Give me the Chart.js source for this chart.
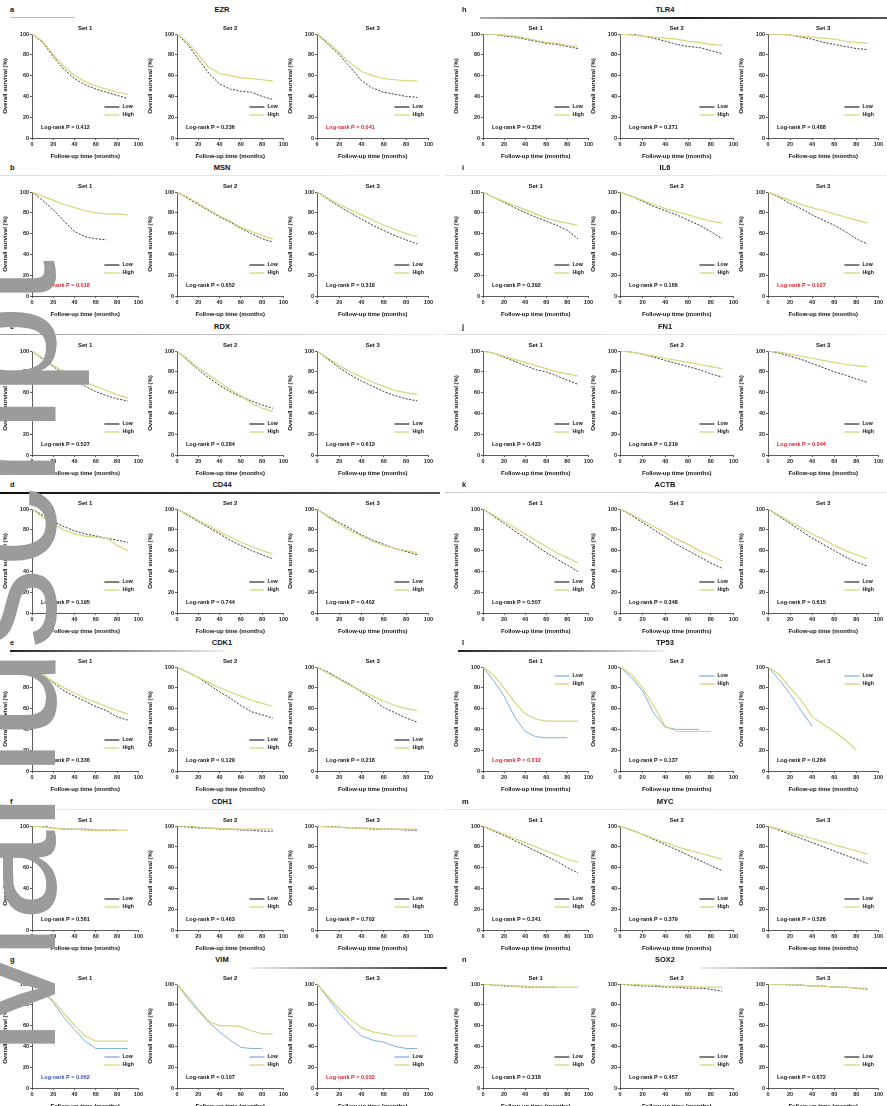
<!DOCTYPE html>
<html><head><meta charset="utf-8">
<script src="https://cdn.jsdelivr.net/npm/chart.js@4.4.0/dist/chart.umd.min.js"></script>
<style>
html,body{margin:0;padding:0;background:#fff;}
#fig{position:relative;width:887px;height:1106px;overflow:hidden;background:#fff;font-family:"Liberation Sans",Arial,sans-serif;}
#fig canvas{position:absolute;}
.lbl{position:absolute;font-weight:bold;font-size:7.5px;color:#111;line-height:1;}
.gene{position:absolute;font-weight:bold;font-size:7.5px;color:#111;line-height:1;transform:translateX(-50%);white-space:nowrap;}
.rule{position:absolute;}
#wm{position:absolute;left:-83px;top:1057px;transform-origin:0 0;transform:rotate(-90deg);font-family:"Liberation Sans",Arial,sans-serif;font-size:163px;color:#9b9b9b;line-height:1;white-space:nowrap;z-index:10;}
</style></head>
<body>
<div id="fig"></div>
<div id="wm"></div>
<script>
// ---------------- data ----------------
const months = [0,10,20,30,40,50,60,70,80,90];
const xTicks = [0,20,40,60,80,100];
const yTicks = [0,20,40,60,80,100];
const panelLetters = ['a','b','c','d','e','f','g','h','i','j','k','l','m','n'];
const geneNames = ['EZR','MSN','RDX','CD44','CDK1','CDH1','VIM','TLR4','IL6','FN1','ACTB','TP53','MYC','SOX2'];
const cohortNames = ['Set 1','Set 2','Set 3'];
const legendLabels = ['Low','High'];
const yTitle = 'Overall survival (%)';
const xTitle = 'Follow-up time (months)';
const pValues = [
 '0.412','0.236','0.041', '0.018','0.652','0.318', '0.527','0.284','0.613',
 '0.195','0.744','0.402', '0.336','0.129','0.218', '0.581','0.463','0.702',
 '0.062','0.107','0.032', '0.354','0.271','0.488', '0.392','0.166','0.027',
 '0.433','0.219','0.044', '0.507','0.348','0.615', '0.012','0.137','0.284',
 '0.241','0.379','0.526', '0.318','0.457','0.672'];
const pSignificant = [
 0,0,1, 1,0,0, 0,0,0, 0,0,0, 0,0,0, 0,0,0, 2,0,1,
 0,0,0, 0,0,1, 0,0,1, 0,0,0, 1,0,0, 0,0,0, 0,0,0];
const lowCurves = [
 [100,92,78,66,57,51,47,44,41,38],[100,90,76,62,52,47,45,44,40,37],[100,90,80,68,55,48,44,42,40,39],
 [100,92,83,72,62,57,55,54,null,null],[100,94,88,82,76,71,65,60,55,52],[100,93,86,80,74,68,63,58,54,50],
 [100,92,85,78,72,66,61,57,54,52],[100,91,82,74,67,61,56,52,48,45],[100,92,84,77,71,66,61,57,54,52],
 [100,94,88,83,79,76,74,72,70,68],[100,94,88,82,76,70,65,60,56,52],[100,93,87,81,75,70,66,62,59,56],
 [100,92,85,77,72,67,62,58,52,49],[100,95,90,83,76,70,63,57,54,51],[100,95,89,83,76,69,61,56,51,47],
 [100,100,98,97,97,97,96,96,96,null],[100,99,98,98,97,97,96,96,95,95],[100,100,99,98,98,97,97,97,96,96],
 [100,94,82,68,56,45,38,38,38,38],[100,86,74,63,54,46,39,38,38,null],[100,86,72,60,50,46,44,40,38,38],
 [100,100,98,97,95,93,91,90,88,86],[100,100,98,96,93,90,88,87,84,81],[100,100,99,97,95,92,90,88,86,85],
 [100,95,90,85,80,76,72,68,63,55],[100,96,91,86,82,78,73,68,62,55],[100,95,89,84,78,73,68,62,55,50],
 [100,98,94,90,86,82,80,76,72,68],[100,99,97,94,91,88,85,82,78,75],[100,98,95,92,88,84,80,77,73,70],
 [100,93,86,79,72,65,58,52,46,40],[100,94,87,80,73,66,60,54,48,43],[100,93,86,79,72,66,60,54,49,45],
 [100,87,72,52,38,33,32,32,32,null],[100,90,77,55,42,40,40,40,null,null],[100,88,74,58,43,null,null,null,null,null],
 [100,95,91,86,81,76,71,66,60,55],[100,96,92,87,82,77,72,67,62,57],[100,96,92,88,84,80,76,72,68,64],
 [100,99,98,98,97,97,97,97,null,null],[100,99,98,98,97,97,96,96,95,93],[100,100,99,99,98,98,97,97,96,95]];
const highCurves = [
 [100,93,80,69,60,54,50,47,44,42],[100,92,80,68,62,60,58,57,56,55],[100,92,82,72,64,60,57,56,55,55],
 [100,96,92,88,85,82,80,79,79,78],[100,95,89,83,77,72,66,62,58,55],[100,94,88,83,78,73,68,64,60,57],
 [100,93,86,80,75,70,66,62,58,55],[100,92,84,77,70,63,57,50,45,42],[100,93,86,80,75,70,66,62,60,58],
 [100,92,85,80,76,74,73,72,65,60],[100,95,89,84,78,73,68,64,60,57],[100,92,85,79,74,69,65,62,60,58],
 [100,93,86,80,75,70,66,62,58,55],[100,95,90,85,80,76,72,68,65,62],[100,94,88,82,77,72,67,63,60,58],
 [100,99,98,97,97,96,96,96,96,96],[100,100,99,98,98,97,97,97,97,97],[100,99,99,98,98,98,97,97,97,97],
 [100,95,84,72,60,50,45,45,45,45],[100,88,76,64,60,60,59,55,52,52],[100,88,76,66,58,54,52,50,50,50],
 [100,100,99,98,96,94,92,91,89,88],[100,99,98,97,96,95,93,92,90,89],[100,100,99,98,97,96,95,93,92,91],
 [100,95,91,87,83,79,75,72,70,68],[100,96,92,88,84,81,78,75,72,70],[100,96,92,88,85,82,79,76,73,70],
 [100,98,95,92,89,86,83,80,78,76],[100,99,97,95,93,91,89,87,85,83],[100,99,97,95,93,91,89,87,86,85],
 [100,94,88,82,76,70,64,58,53,48],[100,95,89,83,77,71,66,60,55,50],[100,94,88,82,76,71,65,60,56,52],
 [100,92,80,66,55,50,48,48,48,48],[100,93,80,62,43,38,38,38,38,null],[100,93,80,68,52,45,38,30,20,null],
 [100,96,92,88,84,80,76,72,68,65],[100,96,92,88,84,80,77,74,71,68],[100,97,94,91,88,85,82,79,76,73],
 [100,99,99,98,98,97,97,97,97,97],[100,100,99,99,98,98,98,97,97,97],[100,100,99,99,98,98,97,97,96,96]];
const bluePanels = [6,11];
const legendTopPanels = [11];

// ---------------- layout ----------------
const ROW_PITCH = 158.3;
const axisX = [[32,177,317],[483,620,768]];
const plotRight = [[140,285,430],[590,735,880]];
const colCenter = [222,665];
const letterX = [10,462];
// rule: [x1,x2,thickness,gradient stops]
const rules = [
 [10,75,1.2,['#bbb','#bbb']],
 [0,440,0.8,['#ddd','#eee']],
 [0,440,1.2,['#999','#eee']],
 [0,440,2.2,['#111','#555']],
 [10,225,2,['#222','#eee']],
 [0,440,0.8,['#e4e4e4','#eee']],
 [250,447,2,['#eee','#222']],
 [480,887,2,['#aaa','#222','#555']],
 [445,887,0.8,['#e4e4e4','#eee']],
 [445,887,0.8,['#ddd','#eee']],
 [445,887,1,['#ccc','#eee']],
 [458,665,2,['#222','#eee']],
 [445,887,0.8,['#e4e4e4','#eee']],
 [700,887,2,['#eee','#222']]
];

const fig = document.getElementById('fig');
const FONT = '"Liberation Sans", Arial, sans-serif';

const annot = {
  id:'annot',
  afterDraw(chart, args, o){
    const ctx = chart.ctx, a = chart.chartArea;
    ctx.save();
    ctx.fillStyle = '#111';
    ctx.font = 'bold 6px ' + FONT;
    ctx.textAlign = 'center'; ctx.textBaseline = 'middle';
    ctx.fillText(o.title, (a.left + a.right)/2, a.top - 6);
    // p value
    ctx.textAlign = 'left';
    ctx.font = 'bold 5.5px ' + FONT;
    ctx.fillStyle = o.sig === 1 ? '#e0202a' : (o.sig === 2 ? '#3a4fb8' : '#111');
    ctx.fillText('Log-rank P = ' + o.p, a.left + 9, a.top + 93);
    // legend
    const ly = o.legendTop ? [a.top + 9, a.top + 17] : [a.top + 73, a.top + 81];
    const cols = [o.c0, o.c1];
    for (let i=0;i<2;i++){
      ctx.strokeStyle = cols[i]; ctx.lineWidth = 1.3; ctx.setLineDash([]);
      ctx.beginPath(); ctx.moveTo(a.right - 34, ly[i]); ctx.lineTo(a.right - 19, ly[i]); ctx.stroke();
      ctx.fillStyle = '#111'; ctx.font = 'bold 5.2px ' + FONT;
      ctx.fillText(legendLabels[i], a.right - 16, ly[i]);
    }
    ctx.restore();
  }
};

function toPts(arr){
  const out = [];
  arr.forEach((v,i)=>{ if (v !== null) out.push({x:months[i], y:v}); });
  return out;
}

for (let p=0;p<14;p++){
  const col = p < 7 ? 0 : 1;
  const row = p % 7;
  const top = Math.round(row * ROW_PITCH);
  // header
  const L = document.createElement('div'); L.className='lbl';
  L.style.left = letterX[col]+'px'; L.style.top = (top+6)+'px'; L.textContent = panelLetters[p];
  fig.appendChild(L);
  const G = document.createElement('div'); G.className='gene';
  G.style.left = colCenter[col]+'px'; G.style.top = (top+6)+'px'; G.textContent = geneNames[p];
  fig.appendChild(G);
  const r = rules[p];
  const R = document.createElement('div'); R.className='rule';
  R.style.left = r[0]+'px'; R.style.width = (r[1]-r[0])+'px';
  R.style.top = (top+17)+'px'; R.style.height = r[2]+'px';
  R.style.background = 'linear-gradient(to right,' + r[3].join(',') + ')';
  fig.appendChild(R);

  const blue = bluePanels.includes(p);
  for (let k=0;k<3;k++){
    const s = p*3 + k;
    const ax = axisX[col][k], pr = plotRight[col][k];
    const cv = document.createElement('canvas');
    const W = pr - ax + 34;
    cv.width = W; cv.height = 140;
    cv.style.left = (ax - 30)+'px'; cv.style.top = (top + 20)+'px';
    cv.style.width = W+'px'; cv.style.height = '140px';
    fig.appendChild(cv);
    const c0 = blue ? '#7fb0e0' : '#3a3a3a';
    const c1 = '#d6d67a';
    const tickFont = {size:5.5, weight:'bold', family:FONT};
    const titleFont = {size:6, weight:'bold', family:FONT};
    new Chart(cv, {
      type:'line',
      data:{datasets:[
        {data:toPts(highCurves[s]), borderColor:c1, borderWidth:1.2, pointRadius:0, tension:0},
        {data:toPts(lowCurves[s]), borderColor:c0, borderWidth:1, borderDash: blue ? [] : [2,1.5], pointRadius:0, tension:0}
      ]},
      options:{
        responsive:false, animation:false, devicePixelRatio:1,
        layout:{padding:{top:14,right:4,left:0,bottom:0}},
        plugins:{legend:{display:false}, tooltip:{enabled:false},
          annot:{title:cohortNames[k], p:pValues[s], sig:pSignificant[s], legendTop:legendTopPanels.includes(p), c0:c0, c1:c1}},
        scales:{
          x:{type:'linear', min:0, max:100,
             afterBuildTicks(sc){ sc.ticks = xTicks.map(v=>({value:v})); },
             ticks:{font:tickFont, color:'#222', padding:1, maxRotation:0, autoSkip:false},
             grid:{display:true, drawOnChartArea:false, tickLength:2, color:'#333', lineWidth:0.8},
             border:{display:true, color:'#333', width:0.8},
             title:{display:true, text:xTitle, font:titleFont, color:'#111', padding:{top:1,bottom:0}},
             afterFit(sc){ sc.height = 22; }},
          y:{type:'linear', min:0, max:100,
             afterBuildTicks(sc){ sc.ticks = yTicks.map(v=>({value:v})); },
             ticks:{font:tickFont, color:'#222', padding:1, autoSkip:false},
             grid:{display:true, drawOnChartArea:false, tickLength:2, color:'#333', lineWidth:0.8},
             border:{display:true, color:'#333', width:0.8},
             title:{display:true, text:yTitle, font:titleFont, color:'#111', padding:{top:0,bottom:1}},
             afterFit(sc){ sc.width = 30; }}
        }
      },
      plugins:[annot]
    });
  }
}
document.getElementById('wm').textContent = 'Manuscript';
</script>
</body></html>
